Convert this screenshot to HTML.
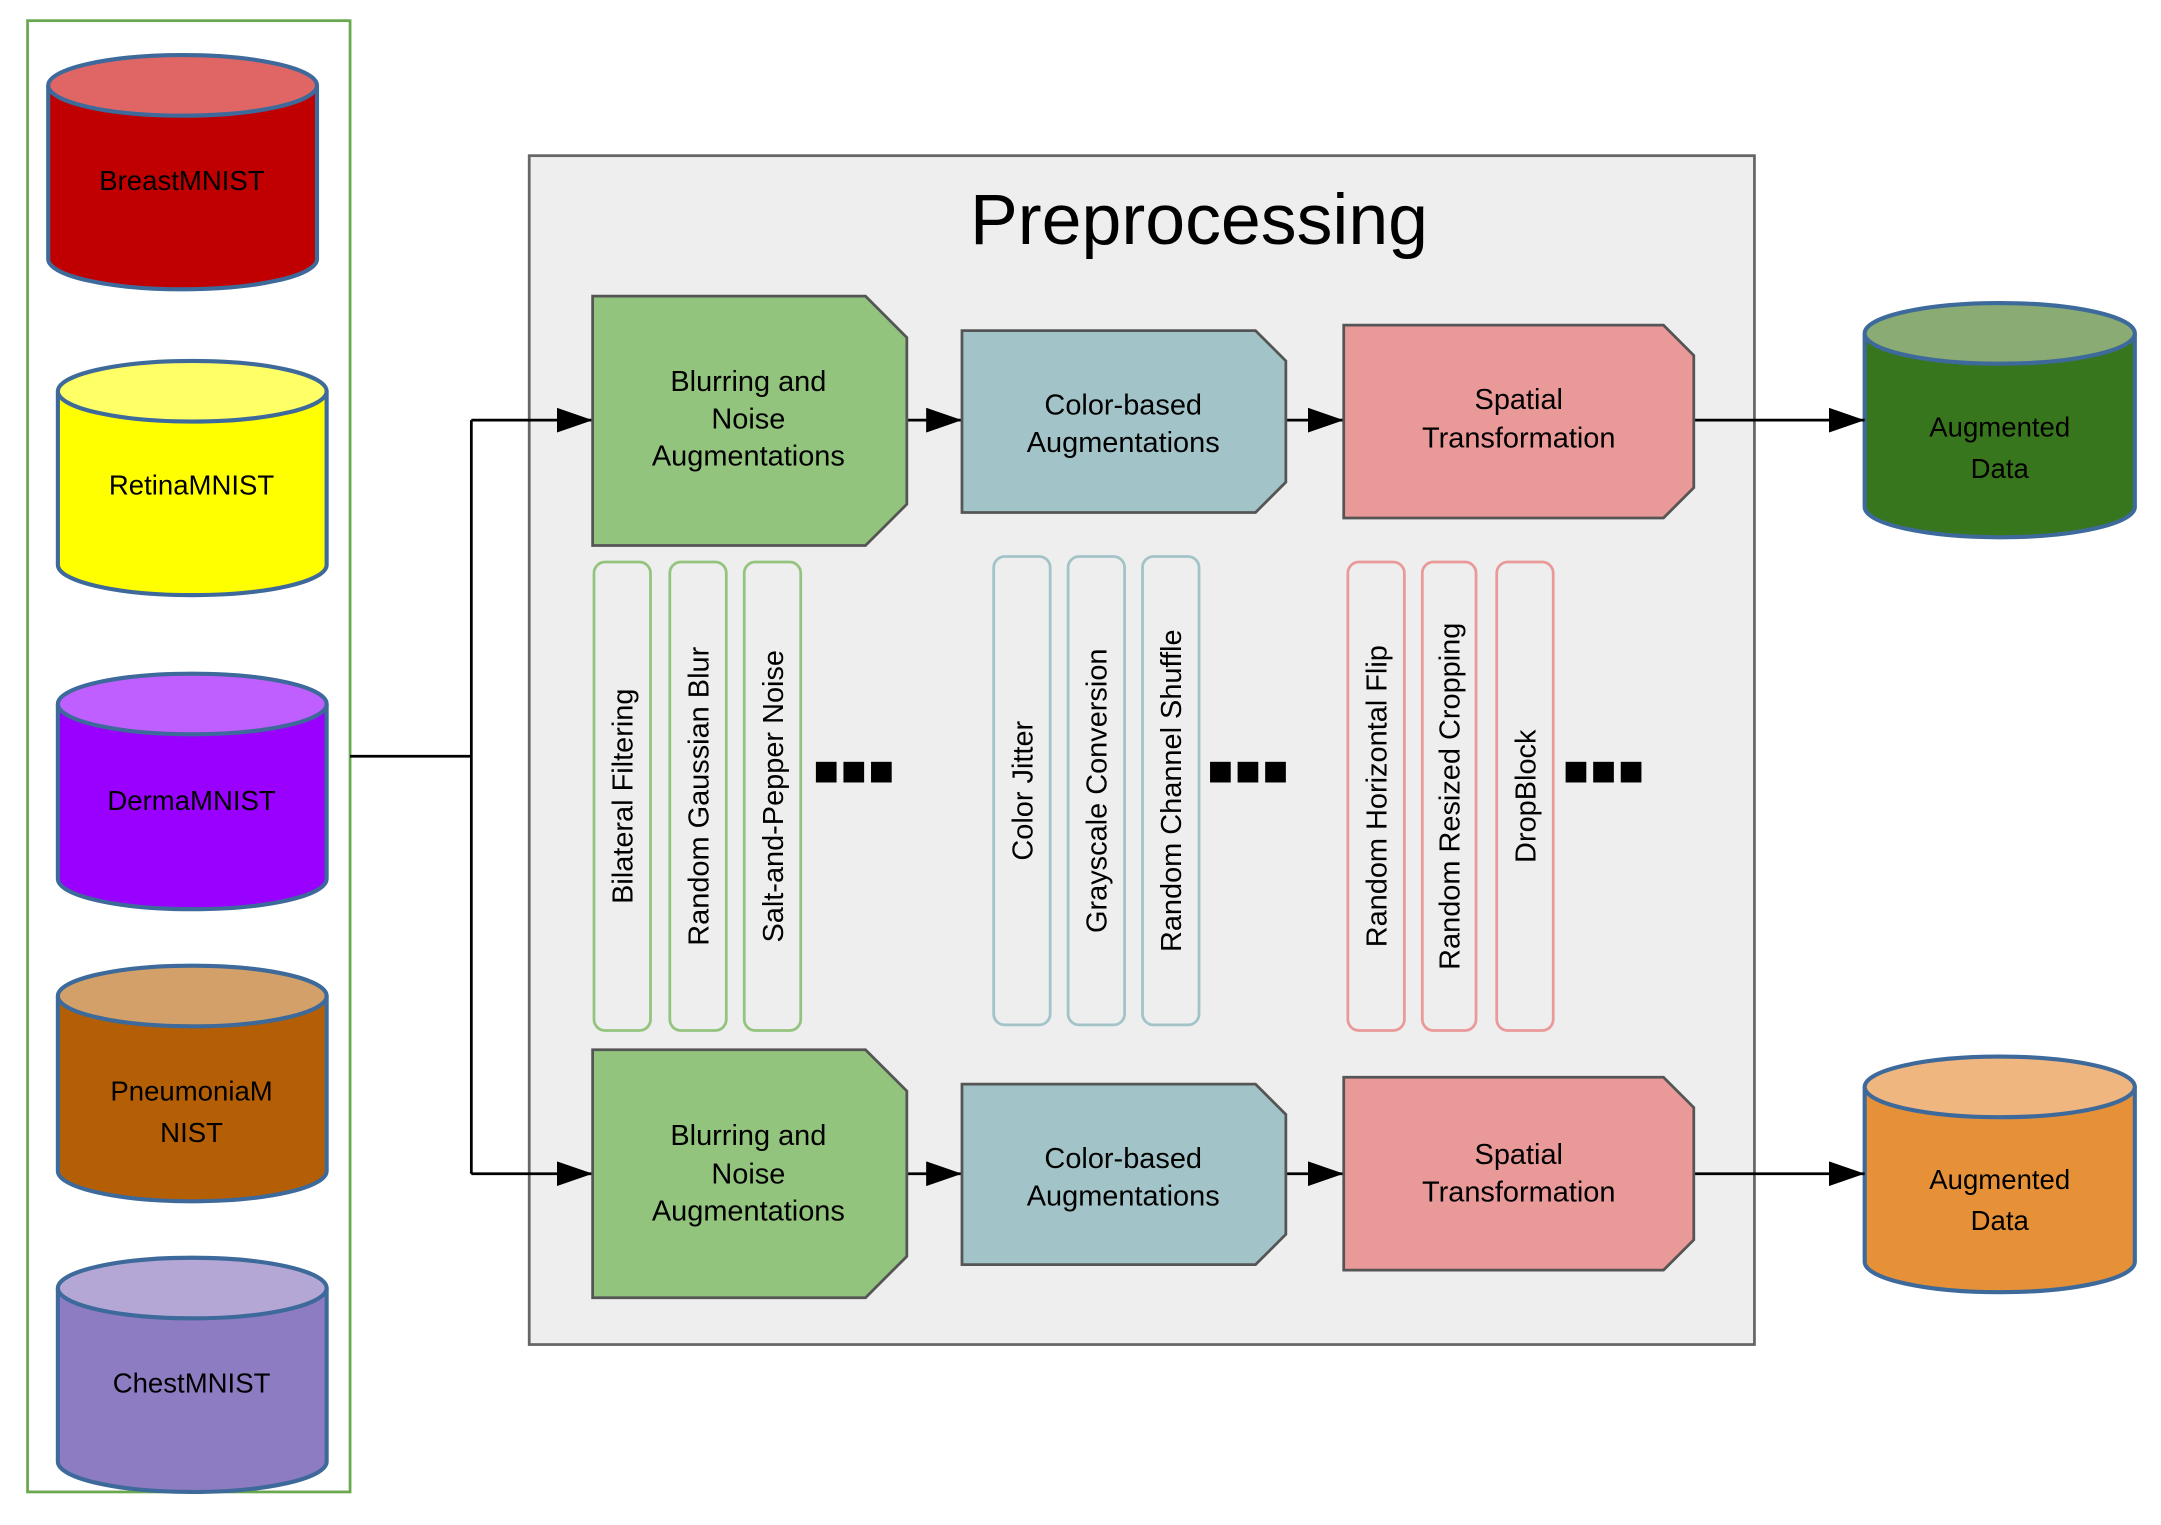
<!DOCTYPE html>
<html><head><meta charset="utf-8"><style>
html,body{margin:0;padding:0;background:#fff;}
svg{display:block;}
text{font-family:"Liberation Sans",sans-serif;}
</style></head><body>
<svg width="2161" height="1525" viewBox="0 0 1568 1107" preserveAspectRatio="none" xmlns="http://www.w3.org/2000/svg">
<defs>
<marker id="ar" markerWidth="26" markerHeight="18" refX="26" refY="9" orient="auto" markerUnits="userSpaceOnUse" viewBox="0 0 26 18">
<path d="M0,0 L26,9 L0,18 z" fill="#000"/></marker>
</defs>
<rect x="20" y="15" width="234" height="1068" fill="#fff" stroke="#6aa84f" stroke-width="2"/>
<g stroke="#3d6a9a" stroke-width="3">
<path d="M35,62 V188 A97.5,22 0 0 0 230,188 V62" fill="#c00000"/><ellipse cx="132.5" cy="62" rx="97.5" ry="22" fill="#e06666"/>
<path d="M42,284 V410 A97.5,22 0 0 0 237,410 V284" fill="#ffff00"/><ellipse cx="139.5" cy="284" rx="97.5" ry="22" fill="#ffff66"/>
<path d="M42,511 V638 A97.5,22 0 0 0 237,638 V511" fill="#9900ff"/><ellipse cx="139.5" cy="511" rx="97.5" ry="22" fill="#bf5fff"/>
<path d="M42,723 V850 A97.5,22 0 0 0 237,850 V723" fill="#b45f06"/><ellipse cx="139.5" cy="723" rx="97.5" ry="22" fill="#d4a06a"/>
<path d="M42,935 V1061 A97.5,22 0 0 0 237,1061 V935" fill="#8e7cc3"/><ellipse cx="139.5" cy="935" rx="97.5" ry="22" fill="#b4a7d6"/>
<path d="M1353,242 V368 A98,22 0 0 0 1549,368 V242" fill="#38761d"/><ellipse cx="1451" cy="242" rx="98" ry="22" fill="#8aab74"/>
<path d="M1353,789 V916 A98,22 0 0 0 1549,916 V789" fill="#e69138"/><ellipse cx="1451" cy="789" rx="98" ry="22" fill="#f0b680"/>
</g>
<g font-size="20" text-anchor="middle" fill="#000">
<text x="132" y="138">BreastMNIST</text>
<text x="139" y="359">RetinaMNIST</text>
<text x="139" y="588">DermaMNIST</text>
<text x="139" y="799">PneumoniaM</text><text x="139" y="829">NIST</text>
<text x="139" y="1011">ChestMNIST</text>
<text x="1451" y="317">Augmented</text><text x="1451" y="347">Data</text>
<text x="1451" y="863">Augmented</text><text x="1451" y="893">Data</text>
</g>
<rect x="384" y="113" width="889" height="863" fill="#eeeeee" stroke="#666" stroke-width="2"/>
<text x="870" y="177" font-size="52" text-anchor="middle">Preprocessing</text>
<g stroke="#000" stroke-width="2" fill="none">
<path d="M254,549 H342 M342,305 V852"/>
<path d="M342,305 H430" marker-end="url(#ar)"/>
<path d="M342,852 H430" marker-end="url(#ar)"/>
<path d="M658,305 H698" marker-end="url(#ar)"/>
<path d="M933,305 H975" marker-end="url(#ar)"/>
<path d="M1229,305 H1353" marker-end="url(#ar)"/>
<path d="M658,852 H698" marker-end="url(#ar)"/>
<path d="M933,852 H975" marker-end="url(#ar)"/>
<path d="M1229,852 H1353" marker-end="url(#ar)"/>
</g>
<g stroke="#555" stroke-width="2">
<path d="M430,215 H628 L658,245 V366 L628,396 H430 Z" fill="#93c47d"/>
<path d="M698,240 H911 L933,262 V350 L911,372 H698 Z" fill="#a2c4c9"/>
<path d="M975,236 H1207 L1229,258 V354 L1207,376 H975 Z" fill="#ea9999"/>
<path d="M430,762 H628 L658,792 V912 L628,942 H430 Z" fill="#93c47d"/>
<path d="M698,787 H911 L933,809 V896 L911,918 H698 Z" fill="#a2c4c9"/>
<path d="M975,782 H1207 L1229,804 V900 L1207,922 H975 Z" fill="#ea9999"/>
</g>
<g font-size="21" text-anchor="middle" fill="#000">
<text x="543" y="284">Blurring and</text><text x="543" y="311">Noise</text><text x="543" y="338">Augmentations</text>
<text x="815" y="301">Color-based</text><text x="815" y="328">Augmentations</text>
<text x="1102" y="297">Spatial</text><text x="1102" y="325">Transformation</text>
<text x="543" y="831">Blurring and</text><text x="543" y="859">Noise</text><text x="543" y="886">Augmentations</text>
<text x="815" y="848">Color-based</text><text x="815" y="875">Augmentations</text>
<text x="1102" y="845">Spatial</text><text x="1102" y="872">Transformation</text>
</g>
<g fill="none" stroke-width="2">
<rect x="431" y="408" width="41" height="340" rx="8" stroke="#93c47d"/>
<rect x="486" y="408" width="41" height="340" rx="8" stroke="#93c47d"/>
<rect x="540" y="408" width="41" height="340" rx="8" stroke="#93c47d"/>
<rect x="721" y="404" width="41" height="340" rx="8" stroke="#a2c4c9"/>
<rect x="775" y="404" width="41" height="340" rx="8" stroke="#a2c4c9"/>
<rect x="829" y="404" width="41" height="340" rx="8" stroke="#a2c4c9"/>
<rect x="978" y="408" width="41" height="340" rx="8" stroke="#ea9999"/>
<rect x="1032" y="408" width="39" height="340" rx="8" stroke="#ea9999"/>
<rect x="1086" y="408" width="41" height="340" rx="8" stroke="#ea9999"/>
</g>
<g font-size="21" text-anchor="middle" fill="#000">
<text transform="translate(459,578) rotate(-90)">Bilateral Filtering</text>
<text transform="translate(514,578) rotate(-90)">Random Gaussian Blur</text>
<text transform="translate(568,578) rotate(-90)">Salt-and-Pepper Noise</text>
<text transform="translate(749,574) rotate(-90)">Color Jitter</text>
<text transform="translate(803,574) rotate(-90)">Grayscale Conversion</text>
<text transform="translate(857,574) rotate(-90)">Random Channel Shuffle</text>
<text transform="translate(1006,578) rotate(-90)">Random Horizontal Flip</text>
<text transform="translate(1059,578) rotate(-90)">Random Resized Cropping</text>
<text transform="translate(1114,578) rotate(-90)">DropBlock</text>
</g>
<g fill="#000">
<rect x="592" y="553" width="15" height="15"/><rect x="612" y="553" width="15" height="15"/><rect x="632" y="553" width="15" height="15"/>
<rect x="878" y="553" width="15" height="15"/><rect x="898" y="553" width="15" height="15"/><rect x="918" y="553" width="15" height="15"/>
<rect x="1136" y="553" width="15" height="15"/><rect x="1156" y="553" width="15" height="15"/><rect x="1176" y="553" width="15" height="15"/>
</g>
</svg>
</body></html>
